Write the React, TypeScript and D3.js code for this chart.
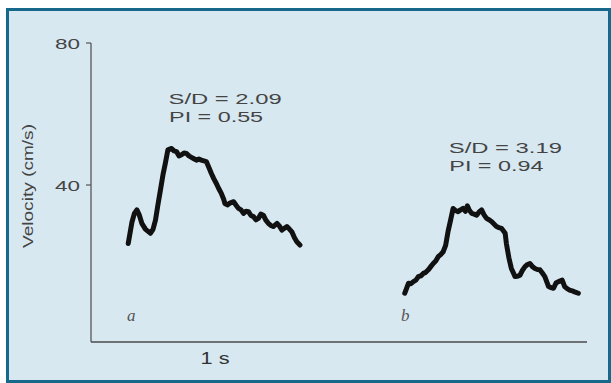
import React from 'react'
import * as d3 from 'd3'

// waveform a: time (s) vs velocity (cm/s)
const timeA = [0.30, 0.33, 0.35, 0.37, 0.39, 0.41, 0.44, 0.48, 0.50, 0.52, 0.54, 0.56, 0.58, 0.60, 0.62, 0.65, 0.67, 0.69, 0.71, 0.73, 0.75, 0.77, 0.79, 0.81, 0.83, 0.85, 0.87, 0.89, 0.91, 0.93, 0.95, 0.97, 0.99, 1.01, 1.03, 1.05, 1.07, 1.08, 1.10, 1.12, 1.15, 1.17, 1.19, 1.21, 1.23, 1.25, 1.27, 1.29, 1.31, 1.33, 1.35, 1.37, 1.39, 1.41, 1.43, 1.45, 1.47, 1.50, 1.52, 1.54, 1.56, 1.58, 1.60, 1.62, 1.64, 1.66, 1.685]
const velA = [23.5, 29.5, 32.0, 33.0, 31.5, 29.2, 27.5, 26.4, 27.5, 30.1, 34.5, 38.6, 42.8, 46.2, 49.9, 50.3, 49.6, 49.4, 48.2, 48.5, 49.0, 48.9, 48.2, 47.8, 47.4, 47.0, 47.3, 47.0, 46.8, 46.6, 45.0, 43.3, 41.8, 40.5, 39.0, 37.7, 36.0, 34.8, 34.4, 34.9, 35.3, 34.3, 33.4, 33.0, 32.0, 32.6, 32.5, 31.4, 31.1, 30.2, 30.6, 31.8, 31.5, 30.1, 29.2, 28.6, 28.3, 29.2, 28.4, 27.3, 27.8, 28.3, 27.6, 26.8, 25.2, 24.0, 23.1]

// waveform b
const timeB = [2.53, 2.56, 2.58, 2.60, 2.62, 2.64, 2.66, 2.68, 2.70, 2.72, 2.74, 2.76, 2.78, 2.80, 2.82, 2.84, 2.86, 2.88, 2.90, 2.92, 2.94, 2.96, 2.98, 3.00, 3.02, 3.035, 3.05, 3.07, 3.09, 3.11, 3.13, 3.15, 3.17, 3.19, 3.21, 3.23, 3.25, 3.27, 3.29, 3.31, 3.34, 3.35, 3.37, 3.39, 3.42, 3.44, 3.46, 3.48, 3.50, 3.52, 3.54, 3.56, 3.58, 3.60, 3.62, 3.64, 3.66, 3.69, 3.71, 3.73, 3.75, 3.77, 3.80, 3.82, 3.84, 3.86, 3.88, 3.90, 3.93]
const velB = [9.5, 12.3, 12.2, 12.8, 13.2, 14.2, 14.4, 15.1, 15.4, 16.1, 17.0, 17.9, 18.6, 19.8, 20.4, 21.2, 23.0, 27.0, 30.1, 33.4, 32.8, 32.5, 33.0, 33.4, 32.6, 34.1, 33.0, 32.0, 31.8, 31.5, 32.4, 33.0, 31.6, 30.6, 30.2, 29.7, 29.0, 28.3, 28.0, 27.8, 26.4, 23.5, 19.5, 16.5, 14.2, 14.3, 14.6, 16.0, 17.0, 17.6, 17.9, 17.0, 16.5, 16.2, 16.1, 15.2, 14.2, 11.4, 11.1, 10.9, 12.4, 12.8, 13.2, 11.4, 10.8, 10.4, 10.2, 9.9, 9.5]

const yTicks = [40, 80]
const annotations = [
  { x: 0.63, lines: ['S/D = 2.09', 'PI = 0.55'], v: 62.7 },
  { x: 2.89, lines: ['S/D = 3.19', 'PI = 0.94'], v: 49.0 },
]
const panelLabels = [
  { t: 0.29, text: 'a' },
  { t: 2.5, text: 'b' },
]

export default function App() {
  const W = 611
  const H = 383

  const x = d3.scaleLinear().domain([0, 4]).range([91, 587])
  const y = d3.scaleLinear().domain([0, 80]).range([327, 43])
  const baseY = 342

  const line = d3.line<[number, number]>()
    .x(d => x(d[0]))
    .y(d => y(d[1]))
    .curve(d3.curveLinear)

  const dataA = timeA.map((t, i) => [t, velA[i]] as [number, number])
  const dataB = timeB.map((t, i) => [t, velB[i]] as [number, number])

  const font = '"Liberation Sans", Arial, sans-serif'
  const textColor = '#444'

  return (
    <svg width={W} height={H} style={{ position: 'absolute', left: 0, top: 0 }}>
      <rect x={0} y={0} width={W} height={H} fill="#ffffff" />
      <rect x={7.5} y={9.5} width={602} height={372} fill="#d8e8f1" stroke="#17698c" strokeWidth={3} />

      {/* axes */}
      <line x1={x(0)} x2={x(0)} y1={y(80)} y2={baseY} stroke="#555" strokeWidth={1.3} />
      <line x1={x(0)} x2={x(4)} y1={baseY} y2={baseY} stroke="#4a4a4a" strokeWidth={1.6} />
      {yTicks.map(t => (
        <g key={t}>
          <line x1={x(0) - 5} x2={x(0)} y1={y(t)} y2={y(t)} stroke="#555" strokeWidth={1.2} />
          <text x={55} y={y(t) + 5.5} fontFamily={font} fontSize={15} fill={textColor}
            textLength={25} lengthAdjust="spacingAndGlyphs">{t}</text>
        </g>
      ))}
      <text transform={`translate(33, 186) rotate(-90)`} textAnchor="middle" fontFamily={font}
        fontSize={15} fill={textColor} textLength={124} lengthAdjust="spacingAndGlyphs">Velocity (cm/s)</text>

      <text x={x(1)} y={364} textAnchor="middle" fontFamily={font} fontSize={16} fill="#333"
        textLength={29} lengthAdjust="spacingAndGlyphs">1 s</text>

      {/* waveforms */}
      {[dataA, dataB].map((d, i) => (
        <path key={i} d={line(d) ?? ''} fill="none" stroke="#111" strokeWidth={5}
          strokeLinejoin="round" strokeLinecap="round" />
      ))}

      {annotations.map((a, i) => (
        <g key={i} fontFamily={font} fontSize={15} fill={textColor}>
          <text x={x(a.x) - 0.5} y={y(a.v)} textLength={113} lengthAdjust="spacingAndGlyphs">{a.lines[0]}</text>
          <text x={x(a.x)} y={y(a.v) + 17.5} textLength={94} lengthAdjust="spacingAndGlyphs">{a.lines[1]}</text>
        </g>
      ))}

      {panelLabels.map(p => (
        <text key={p.text} x={x(p.t)} y={321} fontFamily='"Liberation Serif", "DejaVu Serif", serif'
          fontStyle="italic" fontSize={17} fill="#555">{p.text}</text>
      ))}
    </svg>
  )
}
